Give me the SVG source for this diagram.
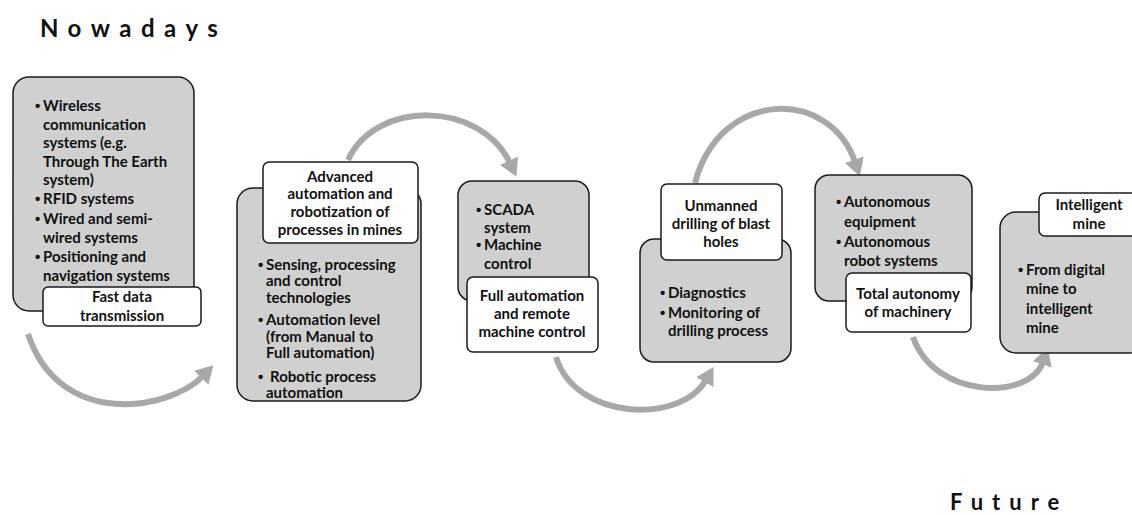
<svg xmlns="http://www.w3.org/2000/svg" width="1132" height="515" viewBox="0 0 1132 515">
<defs>
<style>
.g{fill:#d0d0d0;stroke:#1a1a1a;stroke-width:1.5}
.w{fill:#ffffff;stroke:#1a1a1a;stroke-width:1.5}
text{font-family:Lato,"Open Sans","Liberation Sans",sans-serif;font-weight:bold;fill:#111;font-size:15px}
.b{font-family:"Liberation Sans",sans-serif;font-size:15px}
.c{text-anchor:middle}
.a{fill:none;stroke:#a8a8a8;stroke-width:6}
.t{font-size:24px;letter-spacing:9.5px}
.f{font-size:22px;letter-spacing:9px}
</style>
<marker id="ah" markerUnits="userSpaceOnUse" markerWidth="20" markerHeight="20" refX="2" refY="8" orient="auto" viewBox="0 0 16 16">
<path d="M0,0 L14,8 L0,16 Z" fill="#a8a8a8"/>
</marker>
</defs>
<text class="t" x="40" y="37">Nowadays</text>
<text class="f" x="950" y="510">Future</text>
<g id="connectors">
<path class="a" d="M28,334 C60,430 170,410 203,376" marker-end="url(#ah)"/>
<path class="a" d="M348,160 C375,100 480,100 510,163" marker-end="url(#ah)"/>
<path class="a" d="M556,357 C575,420 680,425 706,380" marker-end="url(#ah)"/>
<path class="a" d="M695,183 C720,88 830,88 855,162" marker-end="url(#ah)"/>
<path class="a" d="M913,337 C935,400 1030,400 1043,362" marker-end="url(#ah)"/>
</g>
<g id="node1">
<rect class="g" x="13" y="77" width="181" height="234" rx="16"/>
<text x="35" y="111"><tspan class="b">•</tspan><tspan x="43">Wireless</tspan></text>
<text x="43" y="130">communication</text>
<text x="43" y="148">systems (e.g.</text>
<text x="43" y="167">Through The Earth</text>
<text x="43" y="185">system)</text>
<text x="35" y="204"><tspan class="b">•</tspan><tspan x="43">RFID systems</tspan></text>
<text x="35" y="224"><tspan class="b">•</tspan><tspan x="43">Wired and semi-</tspan></text>
<text x="43" y="243">wired systems</text>
<text x="35" y="262"><tspan class="b">•</tspan><tspan x="43">Positioning and</tspan></text>
<text x="43" y="281">navigation systems</text>
<rect class="w" x="43" y="287" width="158" height="39" rx="5"/>
<text class="c" x="122" y="302">Fast data</text>
<text class="c" x="122" y="321">transmission</text>
</g>
<g id="node2">
<rect class="g" x="237" y="188" width="184" height="213" rx="16"/>
<rect class="w" x="263" y="162" width="155" height="81" rx="6"/>
<text class="c" x="340" y="182">Advanced</text>
<text class="c" x="340" y="199">automation and</text>
<text class="c" x="340" y="217">robotization of</text>
<text class="c" x="340" y="235">processes in mines</text>
<text x="258" y="270"><tspan class="b">•</tspan><tspan x="266">Sensing, processing</tspan></text>
<text x="266" y="286">and control</text>
<text x="266" y="303">technologies</text>
<text x="258" y="325"><tspan class="b">•</tspan><tspan x="266">Automation level</tspan></text>
<text x="266" y="342">(from Manual to</text>
<text x="266" y="358">Full automation)</text>
<text x="258" y="382"><tspan class="b">•</tspan><tspan x="270">Robotic process</tspan></text>
<text x="266" y="398">automation</text>
</g>
<g id="node3">
<rect class="g" x="458" y="181" width="131" height="120" rx="14"/>
<text x="476" y="215"><tspan class="b">•</tspan><tspan x="484">SCADA</tspan></text>
<text x="484" y="233">system</text>
<text x="476" y="250"><tspan class="b">•</tspan><tspan x="484">Machine</tspan></text>
<text x="484" y="269">control</text>
<rect class="w" x="467" y="277" width="131" height="75" rx="6"/>
<text class="c" x="532" y="301">Full automation</text>
<text class="c" x="532" y="319">and remote</text>
<text class="c" x="532" y="337">machine control</text>
</g>
<g id="node4">
<rect class="g" x="640" y="239" width="151" height="123" rx="14"/>
<rect class="w" x="661" y="184" width="121" height="76" rx="6"/>
<text class="c" x="721" y="211">Unmanned</text>
<text class="c" x="721" y="229">drilling of blast</text>
<text class="c" x="721" y="247">holes</text>
<text x="660" y="298"><tspan class="b">•</tspan><tspan x="668">Diagnostics</tspan></text>
<text x="660" y="318"><tspan class="b">•</tspan><tspan x="668">Monitoring of</tspan></text>
<text x="668" y="336">drilling process</text>
</g>
<g id="node5">
<rect class="g" x="815" y="175" width="157" height="126" rx="14"/>
<text x="836" y="207"><tspan class="b">•</tspan><tspan x="844">Autonomous</tspan></text>
<text x="844" y="227">equipment</text>
<text x="836" y="247"><tspan class="b">•</tspan><tspan x="844">Autonomous</tspan></text>
<text x="844" y="266">robot systems</text>
<rect class="w" x="846" y="273" width="125" height="59" rx="6"/>
<text class="c" x="908" y="299">Total autonomy</text>
<text class="c" x="908" y="317">of machinery</text>
</g>
<g id="node6">
<rect class="g" x="1000" y="212" width="145" height="141" rx="16"/>
<rect class="w" x="1039" y="193" width="105" height="43" rx="6"/>
<text class="c" x="1089" y="210">Intelligent</text>
<text class="c" x="1089" y="229">mine</text>
<text x="1018" y="275"><tspan class="b">•</tspan><tspan x="1026">From digital</tspan></text>
<text x="1026" y="294">mine to</text>
<text x="1026" y="314">intelligent</text>
<text x="1026" y="333">mine</text>
</g>
</svg>
